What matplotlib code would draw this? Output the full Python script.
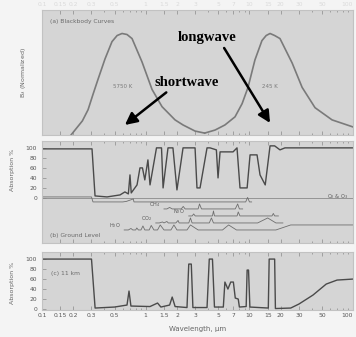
import matplotlib.pyplot as plt
from matplotlib.ticker import FixedLocator, FixedFormatter, LogLocator, NullFormatter

# wavelength ticks (micrometres)
tick_wl = [0.1, 0.15, 0.2, 0.3, 0.5, 1, 1.5, 2, 3, 5, 7, 10, 15, 20, 30, 50, 100]
tick_txt = ['0.1', '0.15', '0.2', '0.3', '0.5', '1', '1.5', '2', '3', '5', '7',
            '10', '15', '20', '30', '50', '100']
pct_ticks = [0, 20, 40, 60, 80, 100]

# (a) blackbody curves, normalized to their peak
sun_wl = [0.19, 0.208, 0.245, 0.278, 0.31, 0.347, 0.405, 0.473, 0.53, 0.591, 0.66, 0.738,
          0.921, 1.15, 1.436, 1.917, 2.29, 2.99, 3.7]
sun_b = [0.0, 0.05, 0.14, 0.25, 0.40, 0.55, 0.75, 0.92, 0.98, 1.0, 0.99, 0.95,
         0.72, 0.45, 0.28, 0.15, 0.10, 0.04, 0.02]
earth_wl = [3.7, 4.66, 5.8, 7.26, 8.5, 9.69, 11.3, 13.2, 14.5, 15.8, 17.5, 19.7, 25.8,
            32.2, 42.9, 62.6, 100]
earth_b = [0.02, 0.05, 0.10, 0.18, 0.31, 0.47, 0.74, 0.93, 0.98, 1.0, 0.98, 0.95, 0.71,
           0.47, 0.27, 0.15, 0.08]

# (b) ground level absorption, %
ground_wl = [0.1, 0.3035, 0.3245, 0.4236, 0.5652, 0.63, 0.68, 0.705, 0.725, 0.8245, 0.88,
             0.93, 0.98, 1.05, 1.10, 1.27, 1.42, 1.47, 1.64, 1.83, 2.0, 2.29, 2.99, 3.12,
             3.34, 3.9, 4.17, 4.8, 4.98, 5.21, 6.95, 7.59, 8.11, 9.5, 10.14, 11.84, 12.65,
             14.2, 15.8, 17.5, 19.7, 22, 100]
ground_ab = [98, 98, 4, 2, 6, 12, 8, 46, 10, 26, 60,
             60, 36, 76, 26, 100, 100, 20, 100, 100, 16, 100, 100, 20,
             20, 100, 100, 96, 40, 92, 92, 100, 20, 20, 86, 86, 46,
             26, 104, 104, 96, 100, 100]

# (b) individual gases, relative band strength 0..1
gas_names = ['O$_2$ & O$_3$', 'CH$_4$', 'N$_2$O', 'CO$_2$', 'H$_2$O']
o3_wl = [0.1, 0.3, 0.31, 0.6, 0.65, 0.76, 0.77, 9.2, 9.6, 10.0, 10.5]
o3_ab = [1, 1, 0, 0, 0.1, 0.6, 0, 0, 0.9, 0, 0]
ch4_wl = [1.5, 1.6, 1.7, 1.8, 2.2, 2.3, 2.4, 3.2, 3.3, 3.45, 7.3, 7.7, 8.0, 8.6]
ch4_ab = [0, 0, 0.3, 0, 0, 0.5, 0, 0, 1, 0, 0, 1, 0, 0]
n2o_wl = [2.6, 2.8, 2.9, 3.0, 4.4, 4.5, 4.6, 7.6, 7.8, 8.1, 16.5, 17, 17.5, 19]
n2o_ab = [0, 0, 0.4, 0, 0, 1, 0, 0, 0.8, 0, 0, 0.5, 0, 0]
co2_wl = [1.25, 1.35, 1.45, 1.5, 1.6, 1.65, 1.95, 2.05, 2.1, 2.6, 2.7, 2.8, 4.1, 4.3, 4.5,
          12, 15, 18, 21]
co2_ab = [0, 0, 0.2, 0, 0.3, 0, 0, 0.5, 0, 0, 1, 0, 0, 1, 0, 0, 1, 0, 0]
h2o_wl = [0.62, 0.68, 0.72, 0.75, 0.8, 0.82, 0.85, 0.9, 0.94, 0.98, 1.08, 1.13, 1.2, 1.3,
          1.38, 1.5, 1.75, 1.87, 2.0, 2.5, 2.7, 3.2, 5.5, 6.3, 7.5, 18, 25, 100]
h2o_ab = [0, 0, 0.3, 0, 0, 0.4, 0, 0, 0.8, 0, 0, 0.9, 0, 0,
          1, 0, 0, 1, 0, 0, 1, 0, 0, 1, 0, 0, 1, 1]

# (c) absorption at 11 km, %
km11_wl = [0.1, 0.30, 0.325, 0.5, 0.66, 0.69, 0.72, 1.1, 1.3, 1.4, 1.7, 1.8, 1.92, 2.5,
           2.6, 2.75, 2.85, 3.9, 4.1, 4.4, 4.6, 5.6, 5.8, 6.2, 6.6, 7.0, 7.3, 7.8, 8.0,
           9.3, 9.5, 9.8, 10.1, 15.2, 15.5, 17.5, 17.8, 25, 30, 41, 55, 70, 100]
km11_ab = [100, 100, 2, 4, 8, 36, 6, 5, 12, 4, 8, 24, 5, 3,
           90, 90, 3, 3, 100, 100, 4, 4, 54, 40, 54, 54, 22, 20, 4,
           5, 78, 78, 4, 2, 100, 100, 1, 2, 10, 28, 50, 58, 60]

gases = [(o3_wl, o3_ab), (ch4_wl, ch4_ab), (n2o_wl, n2o_ab), (co2_wl, co2_ab), (h2o_wl, h2o_ab)]

panel_bg = '#d5d5d5'
line_col = '#4a4a4a'

fig = plt.figure(figsize=(3.56, 3.37), dpi=100, facecolor='#f4f4f4')
ax_a = fig.add_axes([0.118, 0.599, 0.874, 0.371])
ax_b = fig.add_axes([0.118, 0.279, 0.874, 0.303])
ax_c = fig.add_axes([0.118, 0.080, 0.874, 0.172])

for ax in (ax_a, ax_b, ax_c):
    ax.set_facecolor(panel_bg)
    ax.set_xscale('log')
    ax.set_xlim(0.1, 100)
    ax.xaxis.set_major_locator(FixedLocator(tick_wl))
    ax.xaxis.set_major_formatter(FixedFormatter(tick_txt))
    ax.xaxis.set_minor_locator(LogLocator(base=10, subs=range(2, 10)))
    ax.xaxis.set_minor_formatter(NullFormatter())
    ax.tick_params(axis='both', which='both', direction='in', top=True, colors='#8a8a8a',
                   labelsize=4.3, labelcolor='#555555', width=0.5)
    ax.tick_params(which='major', length=3)
    ax.tick_params(which='minor', length=1.5)
    ax.tick_params(axis='x', labelbottom=False)
    for s in ax.spines.values():
        s.set_color('#c2c2c2')
        s.set_linewidth(0.8)

# panel (a)
ax_a.plot(sun_wl, sun_b, color='#7a7a7a', lw=1.2)
ax_a.plot(earth_wl, earth_b, color='#7a7a7a', lw=1.2)
ax_a.set_ylim(0, 1.23)
ax_a.set_yticks([])
ax_a.tick_params(axis='x', labeltop=True, labelcolor='#dadada', pad=2)
ax_a.get_xticklabels()[-1].set_ha('right')
for t in ax_a.xaxis.get_major_ticks()[-1:]:
    t.label2.set_ha('right')
ax_a.set_ylabel('B$_\\lambda$ (Normalized)', fontsize=4.5, color='#666666')
ax_a.yaxis.set_label_coords(-0.045, 0.5)
ax_a.text(0.027, 0.9, '(a) Blackbody Curves', transform=ax_a.transAxes, fontsize=4.3,
          color='#6a6a6a')
ax_a.text(0.6, 0.46, '5750 K', fontsize=4, color='#7a7a7a', ha='center')
ax_a.text(15.8, 0.46, '245 K', fontsize=4, color='#7a7a7a', ha='center')

ax_a.annotate('longwave', xy=(15.8, 0.12), xytext=(3.9, 0.96), ha='center', va='center',
              fontsize=10.5, fontweight='bold', family='Liberation Serif',
              arrowprops=dict(arrowstyle='-|>,head_length=0.6,head_width=0.3', color='black',
                              lw=1.8, mutation_scale=12, relpos=(0.75, 0), shrinkA=1, shrinkB=0))
ax_a.annotate('shortwave', xy=(0.63, 0.1), xytext=(2.5, 0.52), ha='center', va='center',
              fontsize=10.5, fontweight='bold', family='Liberation Serif',
              arrowprops=dict(arrowstyle='-|>,head_length=0.6,head_width=0.3', color='black',
                              lw=1.8, mutation_scale=12, relpos=(0.25, 0), shrinkA=1, shrinkB=0))

# panel (b)
ax_b.set_ylim(-90, 114)
ax_b.set_yticks(pct_ticks)
ax_b.axhline(0, color='#8a8a8a', lw=0.6)
ax_b.plot(ground_wl, ground_ab, color=line_col, lw=1.0)
for i, (name, (wl, ab)) in enumerate(zip(gas_names, gases)):
    base = -8 - 14 * i
    ax_b.plot(wl, [base + 10 * a for a in ab], color='#6e6e6e', lw=0.6)
    if ab[0] > 0:
        ax_b.text(90, base + 2, name, fontsize=3.6, color='#5a5a5a', ha='right', va='bottom')
    else:
        ax_b.text(wl[0] * 0.92, base, name, fontsize=3.6, color='#5a5a5a', ha='right',
                  va='bottom')
ax_b.text(0.027, 0.06, '(b) Ground Level', transform=ax_b.transAxes, fontsize=4.3,
          color='#6a6a6a')
ax_b.set_ylabel('Absorption %', fontsize=4.5, color='#666666')
ax_b.yaxis.set_label_coords(-0.087, 0.716)

# panel (c)
ax_c.set_ylim(-2, 114)
ax_c.set_yticks(pct_ticks)
ax_c.plot(km11_wl, km11_ab, color=line_col, lw=1.0)
ax_c.text(0.03, 0.6, '(c) 11 km', transform=ax_c.transAxes, fontsize=4.3, color='#6a6a6a')
ax_c.set_ylabel('Absorption %', fontsize=4.5, color='#666666')
ax_c.yaxis.set_label_coords(-0.087, 0.47)
ax_c.tick_params(axis='x', labelbottom=True, pad=2)
ax_c.xaxis.get_major_ticks()[-1].label1.set_ha('right')
ax_c.set_xlabel('Wavelength, \u03bcm', fontsize=5, color='#666666', labelpad=6)

fig.savefig('out.png', dpi=100, facecolor=fig.get_facecolor())
